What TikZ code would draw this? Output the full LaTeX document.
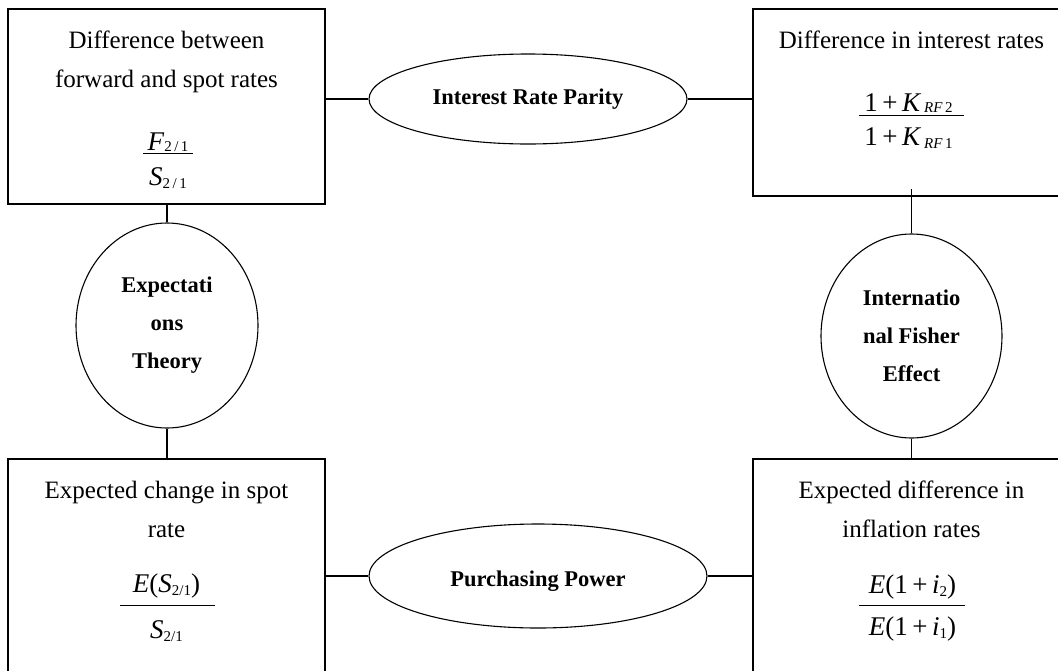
\documentclass[tikz,border=0pt]{standalone}
\usepackage{fontspec}
\setmainfont{Liberation Serif}
\usetikzlibrary{shapes.geometric}
\newcommand\sbs[1]{\raisebox{-3pt}{\fontsize{15}{15}\selectfont #1}}
\newcommand\sbsu[1]{\raisebox{-1.5pt}{\fontsize{15}{15}\selectfont #1}}
\begin{document}
\begin{tikzpicture}[x=1pt,y=-1pt,
 box/.style={draw, line width=1.1pt, inner sep=0pt},
 oval/.style={draw, ellipse, line width=1.1pt, inner sep=0pt, align=center, font=\fontsize{22.5}{38}\selectfont\bfseries},
 lbl/.style={align=center, anchor=base, inner sep=0pt, font=\fontsize{25}{39}\selectfont},
 mth/.style={anchor=base, inner sep=0pt, font=\fontsize{27}{30}\selectfont},
 link/.style={line width=1.1pt},
 fbar/.style={line width=1pt}]
\useasboundingbox (0,0) rectangle (1058,670);
\clip (0,0) rectangle (1058,670);
% boxes
\node[box, minimum width=317pt, minimum height=195pt] (tl) at (166.5,106.5) {};
\node[box, minimum width=317pt, minimum height=187pt] (tr) at (911.5,102.5) {};
\node[box, minimum width=317pt, minimum height=261pt] (bl) at (166.5,589.5) {};
\node[box, minimum width=317pt, minimum height=261pt] (br) at (911.5,589.5) {};
% ovals
\node[oval, minimum width=318pt, minimum height=90pt] (irp) at (528,99) {Interest Rate Parity};
\node[oval, minimum width=182pt, minimum height=205pt] (et) at (167,325.5) {Expectati\\ons\\Theory};
\node[oval, minimum width=181pt, minimum height=204pt] (ife) at (911.5,336) {Internatio\\nal Fisher\\Effect};
\node[oval, minimum width=338pt, minimum height=104pt, text height=20pt, text depth=0pt] (pp) at (538,576) {Purchasing Power};
% connectors
\coordinate (ifetop) at (911.5,189);
\draw[link] (irp.west) -- (irp.west -| tl.east);
\draw[link] (irp.east) -- (irp.east -| tr.west);
\draw[link] (et.north) -- (et.north |- tl.south);
\draw[link] (et.south) -- (et.south |- bl.north);
\draw[link] (ife.north) -- (ifetop);
\draw[link] (ife.south) -- (ife.south |- br.north);
\draw[link] (pp.west) -- (pp.west -| bl.east);
\draw[link] (pp.east) -- (pp.east -| br.west);
% box texts (base = baseline of last line)
\node[lbl] (tlt) at (166.5,87) {Difference between\\forward and spot rates};
\node[lbl] (trt) at (911.5,48) {Difference in interest rates};
\node[lbl] (blt) at (166.5,537) {Expected change in spot\\rate};
\node[lbl] (brt) at (911.5,537) {Expected difference in\\inflation rates};
% fractions
\node[mth] (tln) at (168,150) {\textit{F}\sbsu{2\,/\,1}};
\node[mth] (tld) at (168,185) {\textit{S}\sbs{2\,/\,1}};
\coordinate (tlb1) at (143,153.5); \coordinate (tlb2) at (193,153.5);
\draw[fbar] (tlb1) -- (tlb2);
\node[mth] (trn) at (908.5,111) {1\,+\,\textit{K}\hspace{3pt}\sbsu{\textit{RF}\,2}};
\node[mth] (trd) at (908.5,145) {1\,+\,\textit{K}\hspace{3pt}\sbs{\textit{RF}\,1}};
\coordinate (trb1) at (859,115.7); \coordinate (trb2) at (964,115.7);
\draw[fbar] (trb1) -- (trb2);
\node[mth] (bln) at (166.5,592) {\textit{E}(\textit{S}\sbs{2/1})};
\node[mth] (bld) at (166.5,638.3) {\textit{S}\sbs{2/1}};
\coordinate (blb1) at (120,605.7); \coordinate (blb2) at (215,605.7);
\draw[fbar] (blb1) -- (blb2);
\node[mth] (brn) at (912.5,593.3) {\textit{E}(1\,+\,\textit{i}\sbs{2})};
\node[mth] (brd) at (912.5,635) {\textit{E}(1\,+\,\textit{i}\sbs{1})};
\coordinate (brb1) at (859,605.7); \coordinate (brb2) at (964.7,605.7);
\draw[fbar] (brb1) -- (brb2);
\end{tikzpicture}
\end{document}
